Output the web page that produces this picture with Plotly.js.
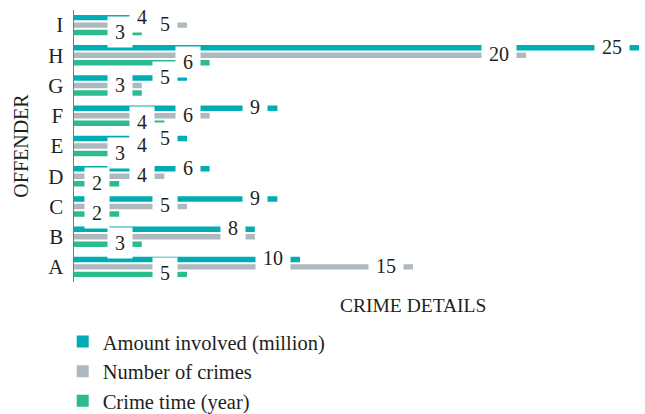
<!DOCTYPE html>
<html>
<head>
<meta charset="utf-8">
<script src="https://cdn.plot.ly/plotly-3.0.1.min.js"></script>
<style>html,body{margin:0;padding:0;background:#fff;}#chart{width:645px;height:414px;}</style>
</head>
<body>
<div id="chart"></div>
<script>
const categories = ['A','B','C','D','E','F','G','H','I'];
const amountInvolved = [10, 8, 9, 6, 5, 9, 5, 25, 4];
const numberOfCrimes = [15, 8, 5, 4, 4, 6, 3, 20, 5];
const crimeTime = [5, 3, 2, 2, 3, 4, 3, 6, 3];
const seriesNames = ['Amount involved (million)', 'Number of crimes', 'Crime time (year)'];
const xTitle = 'CRIME DETAILS';
const yTitle = 'OFFENDER';

const colors = {amount:'#00ADB2', crimes:'#AEB9BF', time:'#2CBA8F'};
const fontFamily = '"Liberation Serif", "DejaVu Serif", serif';
const textColor = '#231F20';
const bargap = 0.256, bargroupgap = 0.27;
const slot = (1 - bargap) / 3;

// trace order bottom->top within a group: time, crimes, amount
const series = [
  {name: seriesNames[2], vals: crimeTime, color: colors.time, off: -slot},
  {name: seriesNames[1], vals: numberOfCrimes, color: colors.crimes, off: 0},
  {name: seriesNames[0], vals: amountInvolved, color: colors.amount, off: slot}
];

const traces = series.map(s => ({
  type: 'bar', orientation: 'h', name: s.name,
  x: s.vals, y: categories,
  marker: {color: s.color, line: {width: 0}},
  hoverinfo: 'skip'
}));

const annotations = [];
series.forEach((s, si) => {
  s.vals.forEach((v, i) => {
    // a label fully covered by the next series' identical label is not drawn
    const next = series[si + 1];
    if (next && next.vals[i] === v) return;
    annotations.push({
      x: v, y: i + s.off, xref: 'x', yref: 'y',
      text: String(v), showarrow: false,
      xanchor: 'right', yanchor: 'middle', xshift: -9, yshift: 1,
      bgcolor: '#ffffff', borderpad: 7, height: 16,
      font: {family: fontFamily, size: 20, color: textColor}
    });
  });
});
annotations.push({
  xref: 'paper', yref: 'paper', x: 0.6, y: -0.085,
  xanchor: 'center', yanchor: 'middle', showarrow: false,
  text: xTitle, font: {family: fontFamily, size: 19.5, color: textColor}
});

const layout = {
  width: 645, height: 414,
  margin: {l: 74, r: 6, t: 10, b: 132, autoexpand: false},
  paper_bgcolor: '#ffffff', plot_bgcolor: '#ffffff',
  barmode: 'group', bargap: bargap, bargroupgap: bargroupgap,
  font: {family: fontFamily, size: 20, color: textColor},
  showlegend: true,
  legend: {
    x: -0.02, xanchor: 'left', y: -0.146, yanchor: 'top',
    traceorder: 'reversed', orientation: 'v',
    font: {family: fontFamily, size: 20.5, color: textColor},
    bgcolor: 'rgba(0,0,0,0)', tracegroupgap: 0
  },
  xaxis: {
    range: [0, 25], showline: false, showgrid: false, zeroline: false,
    showticklabels: false, ticks: '', fixedrange: true
  },
  yaxis: {
    type: 'category', range: [-0.5, categories.length - 0.5], autorange: false,
    showline: true, linecolor: colors.amount, linewidth: 1.5,
    showgrid: false, zeroline: false, ticks: '', ticklabelstandoff: 5,
    tickfont: {family: fontFamily, size: 21, color: textColor},
    title: {text: yTitle, font: {family: fontFamily, size: 20, color: textColor}, standoff: 14},
    automargin: false
  },
  annotations: annotations
};

Plotly.newPlot('chart', traces, layout, {displayModeBar: false, staticPlot: true});
</script>
</body>
</html>
